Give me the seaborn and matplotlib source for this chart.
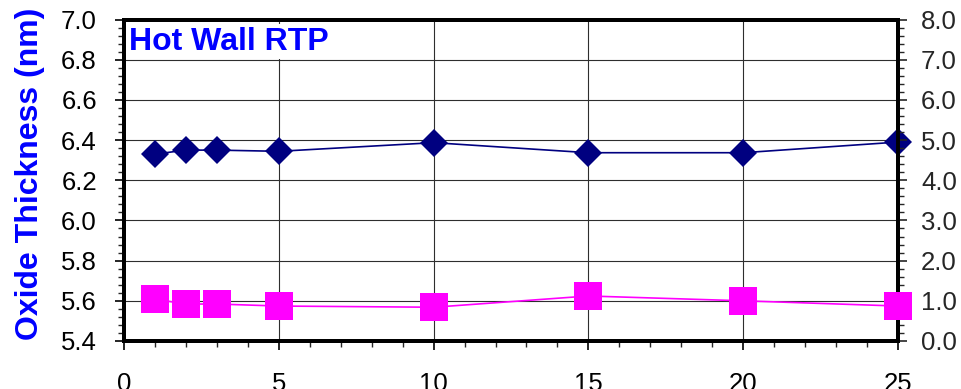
import matplotlib
matplotlib.use("Agg")
import matplotlib.pyplot as plt
from matplotlib.ticker import MultipleLocator, FormatStrFormatter
import seaborn as sns
import pandas as pd

# Measurements per wafer slot
slots = [1, 2, 3, 5, 10, 15, 20, 25]
thickness_nm = [6.33, 6.35, 6.35, 6.344, 6.387, 6.337, 6.337, 6.39]
nonuniformity = [1.04, 0.92, 0.92, 0.87, 0.84, 1.12, 1.00, 0.87]

title_text = "Hot Wall RTP"
ylabel_text = "Oxide Thickness (nm)"

sns.set_style("white")
plt.rcParams["font.family"] = ["Liberation Sans", "DejaVu Sans"]

df = pd.DataFrame({"slot": slots, "thk": thickness_nm, "nu": nonuniformity})

fig = plt.figure(figsize=(9.61, 3.89), dpi=100)
ax = fig.add_axes([124 / 961, 1 - 341 / 389, (898 - 124) / 961, (341 - 19.5) / 389])
ax2 = ax.twinx()

navy = "#000080"
magenta = "#FF00FF"

sns.lineplot(data=df, x="slot", y="thk", ax=ax, color=navy, marker="D",
             markersize=14.5, markeredgewidth=0, linewidth=1.2, clip_on=False,
             zorder=5)
sns.lineplot(data=df, x="slot", y="nu", ax=ax2, color=magenta, marker="s",
             markersize=20, markeredgewidth=0, linewidth=1.2, clip_on=False,
             zorder=5)

ax.set_xlim(0, 25)
ax.set_ylim(5.4, 7.0)
ax2.set_ylim(0, 8.0)

ax.xaxis.set_major_locator(MultipleLocator(5))
ax.xaxis.set_minor_locator(MultipleLocator(1))
ax.yaxis.set_major_locator(MultipleLocator(0.2))
ax.yaxis.set_minor_locator(MultipleLocator(0.04))
ax.yaxis.set_major_formatter(FormatStrFormatter("%.1f"))
ax2.yaxis.set_major_locator(MultipleLocator(1.0))
ax2.yaxis.set_minor_locator(MultipleLocator(0.2))
ax2.yaxis.set_major_formatter(FormatStrFormatter("%.1f"))

ax.grid(True, which="major", color="#2e2e2e", linewidth=0.8)
ax.set_axisbelow(True)

for a in (ax, ax2):
    for s in a.spines.values():
        s.set_linewidth(2.8)
        s.set_color("black")

ax.tick_params(axis="both", which="major", direction="out", length=6.5,
               width=1.2, labelsize=18.5, colors="black")
ax.tick_params(axis="both", which="minor", direction="out", length=4.5,
               width=1.0)
ax.tick_params(axis="x", which="major", pad=15.5)
ax.tick_params(axis="y", which="major", pad=13)
ax.tick_params(axis="y", left=True, which="both")
ax.tick_params(axis="x", bottom=True, which="both")
ax2.tick_params(axis="y", which="major", direction="out", length=6.5,
                width=1.2, labelsize=18.5, pad=10, right=True)
ax2.tick_params(axis="y", which="minor", direction="out", length=4.5,
                width=1.0, right=True)

ax.set_xlabel("")
ax2.set_ylabel("")
ax.set_ylabel(ylabel_text, color="#0000FF", fontsize=23, fontweight="bold")
ax.yaxis.set_label_coords(-0.102, 0.52)

ax.text(0.007, 0.978, title_text, transform=ax.transAxes, color="#0000FF",
        fontsize=23, fontweight="bold", ha="left", va="top", zorder=4,
        bbox=dict(facecolor="white", edgecolor="none", pad=2))

fig.savefig("out.png", dpi=100)
